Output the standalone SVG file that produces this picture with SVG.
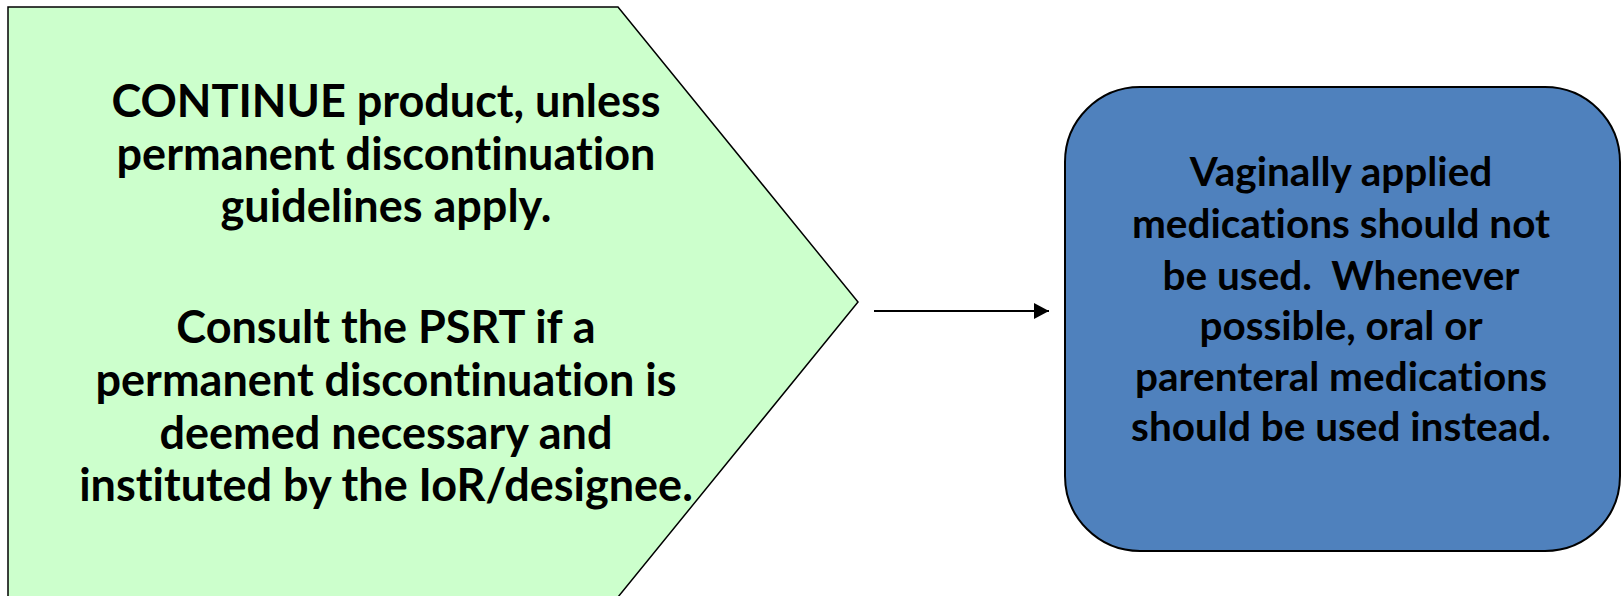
<svg xmlns="http://www.w3.org/2000/svg" width="1621" height="596" viewBox="0 0 1621 596">
  <defs>
    <marker id="arrowhead" markerWidth="16" markerHeight="16" refX="15" refY="8" orient="auto" markerUnits="userSpaceOnUse">
      <path d="M0,0 L15,8 L0,16 Z" fill="#000000"/>
    </marker>
  </defs>
  <style>
    .label { font-family: Lato, "Liberation Sans", sans-serif; font-weight: bold; fill: #000000; text-anchor: middle; font-variant-ligatures: none; font-feature-settings: "liga" 0, "clig" 0; }
    .left-text { font-size: 45px; }
    .right-text { font-size: 40.5px; white-space: pre; }
    .connector { stroke: #000000; stroke-width: 2; fill: none; }
  </style>
  <rect x="0" y="0" width="1621" height="596" fill="#ffffff"/>

  <!-- Pentagon arrow shape with the continuation guidance -->
  <g id="node-continue">
    <polygon points="8,7 618,7 858,302 618,597 8,597" fill="#CCFFCC" stroke="#000000" stroke-width="1.5"/>
    <text class="label left-text"><tspan x="386" y="117">CONTINUE product, unless</tspan><tspan x="386" y="170">permanent discontinuation</tspan><tspan x="386" y="222">guidelines apply.</tspan><tspan x="386" y="343">Consult the PSRT if a</tspan><tspan x="386" y="396">permanent discontinuation is</tspan><tspan x="386" y="449">deemed necessary and</tspan><tspan x="386" y="501">instituted by the IoR/designee.</tspan></text>
  </g>

  <!-- Rounded box with the medication note -->
  <g id="node-vaginal">
    <rect x="1065" y="87" width="555" height="464" rx="75" ry="75" fill="#4F81BD" stroke="#000000" stroke-width="2"/>
    <text class="label right-text" xml:space="preserve"><tspan x="1341" y="186">Vaginally applied</tspan><tspan x="1341" y="238">medications should not</tspan><tspan x="1341" y="290">be used.  Whenever</tspan><tspan x="1341" y="340">possible, oral or</tspan><tspan x="1341" y="391">parenteral medications</tspan><tspan x="1341" y="441">should be used instead.</tspan></text>
  </g>

  <g id="connectors">
    <line class="connector" x1="874" y1="311" x2="1049" y2="311" marker-end="url(#arrowhead)"/>
  </g>
</svg>
